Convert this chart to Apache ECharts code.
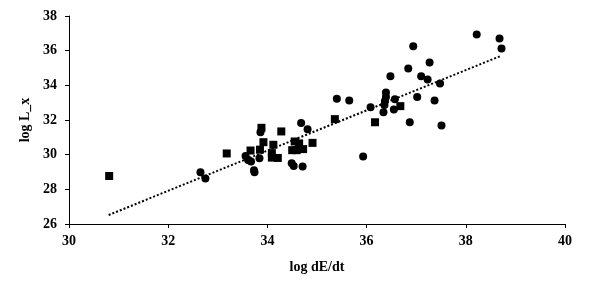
<!DOCTYPE html>
<html>
<head>
<meta charset="utf-8">
<script src="https://cdn.jsdelivr.net/npm/echarts@6/dist/echarts.min.js"></script>
<style>html,body{margin:0;padding:0;background:#fff;}#c{width:589px;height:291px;}</style>
</head>
<body>
<div id="c"></div>
<script>
var xTicks = [30, 32, 34, 36, 38, 40];
var yTicks = [26, 28, 30, 32, 34, 36, 38];
var squares = [
  [30.81,28.77],[33.18,30.07],[33.88,31.55],[34.28,31.34],[33.92,30.72],[34.12,30.57],
  [34.55,30.76],[34.64,30.65],[34.91,30.68],[33.66,30.24],[33.85,30.29],[34.09,30.09],
  [34.09,29.83],[34.21,29.81],[34.50,30.26],[34.59,30.26],[34.72,30.32],[35.36,32.05],
  [36.17,31.87],[36.68,32.80]
];
var circles = [
  [32.65,28.98],[32.75,28.63],[33.56,29.93],[33.61,29.69],[33.67,29.61],[33.84,29.80],
  [33.73,29.10],[33.74,28.98],[33.86,31.30],[34.68,31.83],[34.81,31.46],[34.49,29.51],
  [34.53,29.35],[34.71,29.32],[35.40,33.23],[35.65,33.13],[35.93,29.90],[36.08,32.74],
  [36.39,33.59],[36.39,33.33],[36.37,33.10],[36.36,32.86],[36.34,32.44],[36.57,33.19],
  [36.55,32.61],[36.87,31.87],[37.02,33.33],[37.37,33.13],[36.48,34.53],[37.10,34.53],
  [36.84,34.97],[37.23,34.34],[37.27,35.32],[36.94,36.25],[37.48,34.10],[37.51,31.68],
  [38.22,36.93],[38.68,36.70],[38.72,36.12]
];
var trend = [[30.80,26.52],[38.69,35.68]];

var font = '"Liberation Serif", "Times New Roman", serif';
var chart = echarts.init(document.getElementById('c'));
chart.setOption({
  animation: false,
  backgroundColor: '#fff',
  grid: {left: 69, right: 24, top: 16, bottom: 67},
  xAxis: {
    type: 'value', min: 30, max: 40, interval: 2,
    name: 'log dE/dt', nameLocation: 'middle', nameGap: 36,
    nameTextStyle: {fontFamily: font, fontWeight: 'bold', fontSize: 14, color: '#000'},
    axisLine: {show: true, onZero: false, lineStyle: {color: '#000', width: 1}},
    axisTick: {show: true, inside: false, length: 4, lineStyle: {color: '#000'}},
    axisLabel: {fontFamily: font, fontWeight: 'bold', fontSize: 14, color: '#000', margin: 10,
      formatter: function(v){ return xTicks.indexOf(v) >= 0 ? String(v) : ''; }},
    splitLine: {show: false}
  },
  yAxis: {
    type: 'value', min: 26, max: 38, interval: 2,
    name: 'log L_x', nameLocation: 'middle', nameGap: 33, nameRotate: 90,
    nameTextStyle: {fontFamily: font, fontWeight: 'bold', fontSize: 14, color: '#000'},
    axisLine: {show: true, onZero: false, lineStyle: {color: '#000', width: 1}},
    axisTick: {show: true, inside: false, length: 4, lineStyle: {color: '#000'}},
    axisLabel: {fontFamily: font, fontWeight: 'bold', fontSize: 14, color: '#000', margin: 12,
      formatter: function(v){ return yTicks.indexOf(v) >= 0 ? String(v) : ''; }},
    splitLine: {show: false}
  },
  series: [
    {type: 'line', data: trend, symbol: 'none', silent: true,
     lineStyle: {color: '#000', width: 2, type: [2, 2]}},
    {type: 'scatter', data: squares, symbol: 'rect', symbolSize: 8,
     itemStyle: {color: '#000', opacity: 1}},
    {type: 'scatter', data: circles, symbol: 'circle', symbolSize: 8,
     itemStyle: {color: '#000', opacity: 1}}
  ]
});
</script>
</body>
</html>
